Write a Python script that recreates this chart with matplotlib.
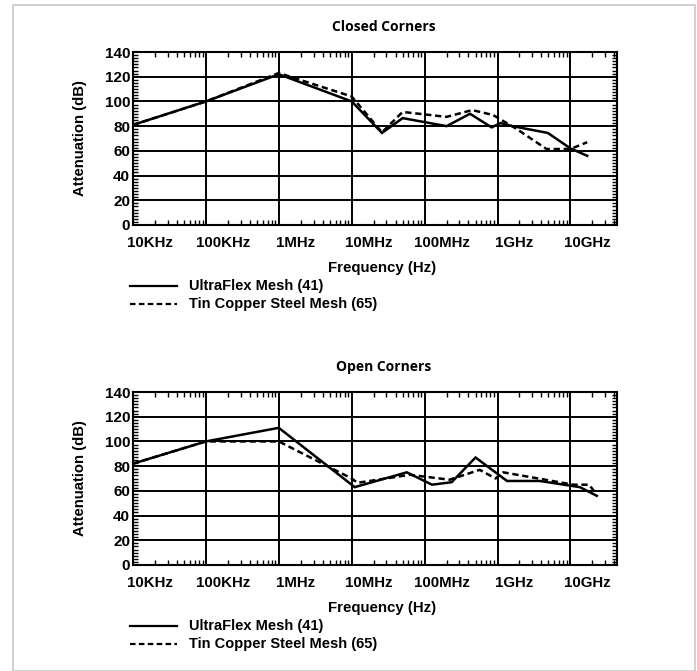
import numpy as np
import matplotlib
matplotlib.use('Agg')
import matplotlib.pyplot as plt
import matplotlib.transforms as mtransforms
from matplotlib.ticker import LogLocator, MultipleLocator, NullFormatter, FixedLocator
from matplotlib.patches import Rectangle
from matplotlib.lines import Line2D

# closed corners
closed_f_solid = [1e4, 1e5, 1e6, 1e7, 2.6e7, 5e7, 2e8, 4.2e8, 8.3e8, 1.1e9, 1.6e9, 4.9e9, 1e10, 1.7e10]
closed_v_solid = [81, 100, 122, 100, 74.5, 86.5, 80, 90, 79, 82.5, 80, 74.5, 62, 56]
closed_f_dash = [1e4, 1e5, 1e6, 1e7, 2.6e7, 5e7, 2e8, 4.5e8, 8.7e8, 1.8e9, 4.7e9, 1e10, 1.7e10]
closed_v_dash = [81, 100, 123, 104, 75, 91.5, 87.5, 93, 89, 78, 61.5, 61.5, 67]

# open corners
open_f_solid = [1e4, 1e5, 1e6, 1.1e7, 5.7e7, 1.26e8, 2.35e8, 5e8, 1.35e9, 3.8e9, 1.35e10, 2.3e10]
open_v_solid = [82, 100, 111, 63, 75, 65, 67, 87, 68, 68, 63, 56]
open_f_dash = [1e4, 1e5, 1e6, 1e7, 1.2e7, 6.3e7, 2.2e8, 5.7e8, 9.4e8, 1.2e9, 1.1e10, 1.8e10, 2.1e10]
open_v_dash = [82, 100, 100, 70, 66.5, 73, 69, 77, 70, 75, 65, 65, 60]

xticks = [1e4, 1e5, 1e6, 1e7, 1e8, 1e9, 1e10]
xticklabels = ['10KHz', '100KHz', '1MHz', '10MHz', '100MHz', '1GHz', '10GHz']
yticks = [0, 20, 40, 60, 80, 100, 120, 140]
series_names = ['UltraFlex Mesh (41)', 'Tin Copper Steel Mesh (65)']

W, H = 697, 671
fig = plt.figure(figsize=(W/100, H/100), dpi=100)
fig.patches.append(Rectangle((13/W, 0), (695-13)/W, (H-5)/H, transform=fig.transFigure,
                             fill=False, ec='#c8c8c8', lw=1.2))

lab_font = dict(family='Liberation Sans', weight='bold')

def panel(top, title, fs, vs, fd, vd):
    left, right = 133, 617
    bottom = top + 173
    ax = fig.add_axes([left/W, 1-bottom/H, (right-left)/W, 173/H])
    ax.plot(fs, vs, color='black', lw=1.8, solid_joinstyle='miter')
    ax.plot(fd, vd, color='black', lw=1.8, ls=(0, (2.5, 1.5)))
    ax.set_xscale('log')
    ax.set_xlim(1e4, 10**(4 + 484/72.9))
    ax.set_ylim(0, 140)
    ax.xaxis.set_major_locator(FixedLocator(xticks))
    ax.set_xticklabels(xticklabels, fontsize=10.8, **lab_font)
    ax.xaxis.set_minor_locator(LogLocator(base=10, subs=np.arange(2, 10), numticks=20))
    ax.xaxis.set_minor_formatter(NullFormatter())
    ax.set_yticks(yticks)
    ax.set_yticklabels([str(y) for y in yticks], fontsize=11, **lab_font)
    ax.yaxis.set_minor_locator(MultipleLocator(2.5))
    ax.tick_params(axis='x', which='major', length=0, pad=8)
    ax.tick_params(axis='y', which='major', length=0, pad=2)
    ax.tick_params(which='minor', direction='in', length=3.5, width=1, top=True, right=True,
                   bottom=True, left=True)
    off = mtransforms.ScaledTranslation(0.17, 0, fig.dpi_scale_trans)
    for lbl in ax.get_xticklabels():
        lbl.set_transform(lbl.get_transform() + off)
    ax.grid(True, which='major', color='black', lw=1.4)
    for s in ax.spines.values():
        s.set_linewidth(1.5)
    ax.set_ylabel('Attenuation (dB)', fontsize=10.7, labelpad=13, **lab_font)
    fig.text(382/W, 1-(bottom+43)/H, 'Frequency (Hz)', ha='center', va='center',
             fontsize=10.8, **lab_font)
    fig.text(384/W, 1-(top-25)/H, title, ha='center', va='center', fontsize=10,
             family='Open Sans', weight='bold')
    # legend rows
    for i, (name, ls) in enumerate(zip(series_names, ['-', (0, (2.5, 1.5))])):
        yy = 1-(bottom+61+18*i)/H
        fig.lines.append(Line2D([130/W, 177/W], [yy, yy], transform=fig.transFigure,
                                color='black', lw=1.6, ls=ls))
        fig.text(189/W, yy, name, ha='left', va='center', fontsize=10.5, **lab_font)
    return ax

panel(52, 'Closed Corners', closed_f_solid, closed_v_solid, closed_f_dash, closed_v_dash)
panel(392, 'Open Corners', open_f_solid, open_v_solid, open_f_dash, open_v_dash)

fig.savefig('out.png', dpi=100)
